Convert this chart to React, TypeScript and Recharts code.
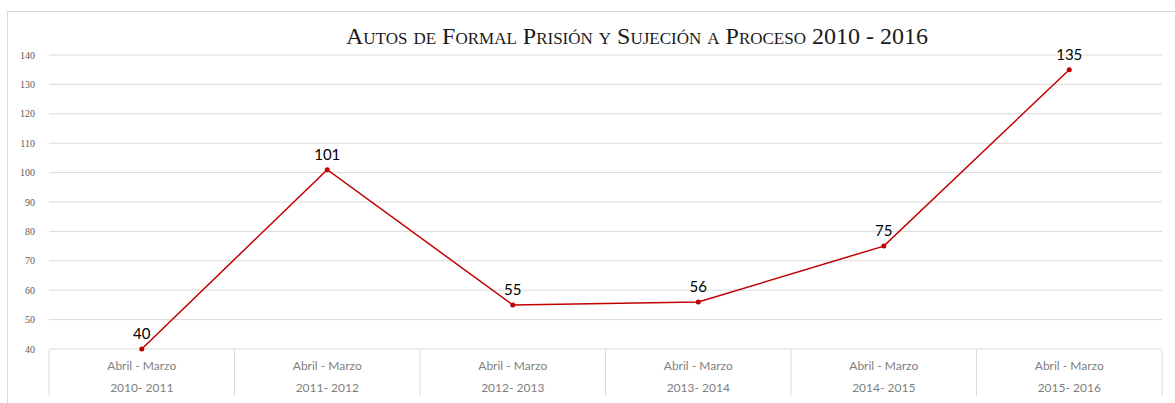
import { CartesianGrid, LabelList, Line, LineChart, XAxis, YAxis } from "recharts"

const periods = ["Abril - Marzo", "Abril - Marzo", "Abril - Marzo", "Abril - Marzo", "Abril - Marzo", "Abril - Marzo"]
const years = ["2010- 2011", "2011- 2012", "2012- 2013", "2013- 2014", "2014- 2015", "2015- 2016"]
const autos = [40, 101, 55, 56, 75, 135]
const yTicks = [40, 50, 60, 70, 80, 90, 100, 110, 120, 130, 140]

const TITLE = "Autos de Formal Prisión y Sujeción a Proceso 2010 - 2016"
const LINE_RED = "#c00000"
const GRID = "#d9d9d9"

const data = years.map((y, i) => ({ name: y, period: periods[i], value: autos[i] }))

const W = 1175
const H = 403
const PLOT_LEFT = 49
const PLOT_RIGHT = 1162
const HALF_BAND = (PLOT_RIGHT - PLOT_LEFT) / years.length / 2

function CategoryTick(props: any) {
  const { x, y, payload, index } = props
  const row = data[index] || data.find((d) => d.name === payload.value)
  const top = y - 7
  return (
    <g>
      <line x1={x - HALF_BAND} x2={x - HALF_BAND} y1={top} y2={top + 46} stroke={GRID} />
      {index === years.length - 1 && (
        <line x1={x + HALF_BAND} x2={x + HALF_BAND} y1={top} y2={top + 46} stroke={GRID} />
      )}
      <text x={x} y={top + 20} textAnchor="middle" fill="#7f7f7f" fontSize={12} fontFamily="Lato, sans-serif">
        {row ? row.period : ""}
      </text>
      <text x={x} y={top + 42} textAnchor="middle" fill="#7f7f7f" fontSize={12} fontFamily="Lato, sans-serif">
        {payload.value}
      </text>
    </g>
  )
}

export default function App() {
  return (
    <div style={{ position: "absolute", left: 0, top: 0, width: W, height: H, background: "#fff", overflow: "hidden" }}>
      <div
        style={{
          position: "absolute",
          left: 7,
          top: 11,
          width: W,
          height: H,
          borderLeft: `1px solid ${GRID}`,
          borderTop: `1px solid ${GRID}`,
        }}
      />
      <div
        style={{
          position: "absolute",
          left: 0,
          width: 1274,
          top: 22,
          textAlign: "center",
          fontFamily: "'Liberation Serif', 'DejaVu Serif', serif",
          fontVariant: "small-caps",
          fontSize: 24,
          color: "#1a1a1a",
          lineHeight: "28px",
        }}
      >
        {TITLE}
      </div>
      <LineChart
        width={W}
        height={H}
        data={data}
        margin={{ top: 55, right: W - PLOT_RIGHT, left: PLOT_LEFT - 40, bottom: 0 }}
        style={{ position: "absolute", left: 0, top: 0 }}
      >
        <CartesianGrid stroke={GRID} vertical={false} />
        <XAxis
          dataKey="name"
          scale="band"
          height={54}
          axisLine={false}
          tickLine={false}
          interval={0}
          tick={<CategoryTick />}
        />
        <YAxis
          domain={[40, 140]}
          ticks={yTicks}
          width={40}
          axisLine={false}
          tickLine={false}
          tickMargin={8}
          tick={{ fill: "#595959", fontSize: 10, fontFamily: "'Liberation Serif', serif" }}
        />
        <Line
          dataKey="value"
          stroke={LINE_RED}
          strokeWidth={1.5}
          dot={{ r: 2.5, fill: LINE_RED, stroke: LINE_RED, strokeWidth: 0 }}
          isAnimationActive={false}
        >
          <LabelList
            dataKey="value"
            position="top"
            offset={10}
            fill="#000"
            fontSize={15}
            fontFamily="Lato, sans-serif"
          />
        </Line>
      </LineChart>
    </div>
  )
}
